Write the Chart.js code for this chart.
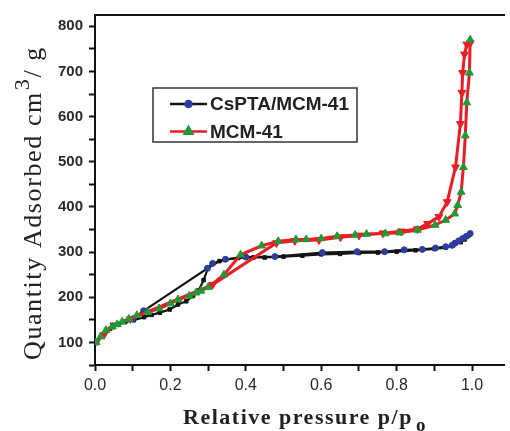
<!DOCTYPE html>
<html>
<head>
<meta charset="utf-8">
<script src="https://cdn.jsdelivr.net/npm/chart.js@4.4.1/dist/chart.umd.min.js"></script>
<style>
  html, body { margin: 0; padding: 0; background: #fff; }
  #wrap { width: 510px; height: 431px; }
</style>
</head>
<body>
<div id="wrap"><canvas id="iso" width="510" height="431"></canvas></div>
<script>
// N2 adsorption / desorption isotherms (relative pressure vs. quantity adsorbed)

// CsPTA/MCM-41 – adsorption branch
const CS_ADS_P = [0.005, 0.02, 0.04, 0.06, 0.08, 0.103, 0.13, 0.15, 0.172, 0.198, 0.22, 0.242, 0.26, 0.275, 0.288, 0.30,
                  0.33, 0.346, 0.38, 0.42, 0.45, 0.50, 0.55, 0.60, 0.65, 0.70, 0.75, 0.80, 0.85, 0.90, 0.93, 0.95, 0.97, 0.98, 0.99, 0.995];
const CS_ADS_V = [100, 118, 130, 139, 145, 149, 156, 161, 166, 173, 184, 191, 203, 215, 238, 265,
                  280, 283, 287, 288, 288, 290, 292, 295, 296, 298, 299, 301, 304, 307, 310, 315, 322, 328, 336, 340];

// CsPTA/MCM-41 – desorption branch
const CS_DES_P = [0.995, 0.985, 0.975, 0.965, 0.955, 0.947, 0.93, 0.903, 0.868, 0.82, 0.768, 0.695, 0.603, 0.477, 0.40, 0.346, 0.312, 0.298, 0.129, 0.10];
const CS_DES_V = [341, 335, 330, 325, 320, 315, 312, 309, 306, 305, 301, 301, 299, 290, 289, 284, 275, 264, 170, 152];

// MCM-41 – adsorption branch
const MCM_ADS_P = [0.003, 0.015, 0.029, 0.046, 0.059, 0.072, 0.09, 0.111, 0.14, 0.17, 0.20, 0.22, 0.25, 0.268, 0.281, 0.30,
                   0.342, 0.386, 0.442, 0.486, 0.533, 0.56, 0.60, 0.642, 0.69, 0.72, 0.77, 0.808, 0.855, 0.902, 0.93,
                   0.954, 0.962, 0.971, 0.977, 0.982, 0.986, 0.993, 0.995];
const MCM_ADS_V = [100, 113, 127, 135, 140, 146, 152, 160, 167, 175, 186, 195, 203, 210, 214, 222,
                   250, 294, 314, 324, 328, 328, 330, 335, 338, 340, 341, 343, 349, 360, 371,
                   385, 404, 433, 488, 558, 631, 697, 770];

// MCM-41 – desorption branch
const MCM_DES_P = [0.995, 0.986, 0.98, 0.975, 0.973, 0.969, 0.956, 0.934, 0.912, 0.882, 0.855, 0.812, 0.764, 0.70, 0.651,
                   0.594, 0.53, 0.481, 0.312, 0.094, 0.05, 0.024, 0.005];
const MCM_DES_V = [763, 760, 738, 697, 653, 584, 488, 411, 378, 363, 351, 346, 342, 337, 333,
                   327, 325, 320, 228, 152, 138, 117, 103];

const X_TICKS = [0, 0.1, 0.2, 0.3, 0.4, 0.5, 0.6, 0.7, 0.8, 0.9, 1.0];
const Y_TICKS = [50, 100, 150, 200, 250, 300, 350, 400, 450, 500, 550, 600, 650, 700, 750, 800];
const LEGEND_NAMES = ['CsPTA/MCM-41', 'MCM-41'];

const RED = '#ec1c24';
const GREEN = '#1f9a36';
const BLUE = '#2c3d9c';
const BLACK = '#141414';

const SERIF = '"Liberation Serif", "Times New Roman", serif';
const SANS = '"Liberation Sans", Arial, sans-serif';

const pts = (xs, ys) => xs.map((x, i) => ({ x, y: ys[i] }));

// legend box inside the plot: line colour of the branch + adsorption marker
const legendBox = {
  id: 'legendBox',
  afterDraw(chart) {
    const ctx = chart.ctx;
    const sets = chart.data.datasets;
    const rows = [
      { line: sets[3], mark: sets[2] },
      { line: sets[1], mark: sets[0] }
    ];
    ctx.save();
    ctx.strokeStyle = '#333';
    ctx.lineWidth = 1.5;
    ctx.strokeRect(153, 88, 204, 54);
    rows.forEach((r, i) => {
      const y = 104 + i * 27.5;
      ctx.strokeStyle = r.line.borderColor;
      ctx.lineWidth = 2.5;
      ctx.beginPath();
      ctx.moveTo(170, y);
      ctx.lineTo(207, y);
      ctx.stroke();
      ctx.fillStyle = r.mark.pointBackgroundColor;
      ctx.strokeStyle = r.mark.pointBorderColor;
      Chart.helpers.drawPoint(ctx, {
        pointStyle: r.mark.pointStyle, rotation: 0,
        radius: r.mark.pointRadius, borderWidth: 1
      }, 188.5, y);
      ctx.fillStyle = '#222';
      ctx.font = 'bold 19px ' + SANS;
      ctx.textBaseline = 'middle';
      ctx.fillText(LEGEND_NAMES[i], 210, y + 1);
    });
    ctx.restore();
  }
};

// axis titles: x with a subscript o, y rotated with a superscript 3
const axisTitles = {
  id: 'axisTitles',
  afterDraw(chart) {
    const ctx = chart.ctx;
    ctx.save();
    ctx.fillStyle = '#222';
    ctx.textBaseline = 'alphabetic';

    // x title
    ctx.letterSpacing = '1.5px';
    const main = 'Relative pressure p/p';
    ctx.font = 'bold 22px ' + SERIF;
    const w1 = ctx.measureText(main).width;
    ctx.font = 'bold 19px ' + SERIF;
    const w2 = ctx.measureText('o').width;
    const x0 = 305 - (w1 + w2 + 3) / 2;
    ctx.font = 'bold 22px ' + SERIF;
    ctx.fillText(main, x0, 424);
    ctx.font = 'bold 19px ' + SERIF;
    ctx.fillText('o', x0 + w1 + 3, 431);

    // y title, drawn bottom-up
    ctx.translate(41, 360);
    ctx.rotate(-Math.PI / 2);
    ctx.letterSpacing = '1.6px';
    ctx.font = '26px ' + SERIF;
    const a = 'Quantity Adsorbed cm';
    ctx.fillText(a, 0, 0);
    let x = ctx.measureText(a).width + 1;
    ctx.font = '22px ' + SERIF;
    ctx.fillText('3', x, -12);
    x += ctx.measureText('3').width;
    ctx.font = '26px ' + SERIF;
    ctx.fillText('/ g', x, 0);
    ctx.restore();
  }
};

new Chart(document.getElementById('iso'), {
  type: 'line',
  data: {
    datasets: [
      {
        label: 'MCM-41 adsorption',
        data: pts(MCM_ADS_P, MCM_ADS_V),
        borderColor: RED, borderWidth: 3,
        pointStyle: 'triangle', pointRadius: 4.5,
        pointBackgroundColor: GREEN, pointBorderColor: GREEN, pointBorderWidth: 1,
        order: 0
      },
      {
        label: 'MCM-41 desorption',
        data: pts(MCM_DES_P, MCM_DES_V),
        borderColor: RED, borderWidth: 3,
        pointStyle: 'triangle', pointRotation: 180, pointRadius: 4.5,
        pointBackgroundColor: RED, pointBorderColor: RED, pointBorderWidth: 1,
        order: 1
      },
      {
        label: 'CsPTA/MCM-41 desorption',
        data: pts(CS_DES_P, CS_DES_V),
        borderColor: BLACK, borderWidth: 2.2,
        pointStyle: 'circle', pointRadius: 3,
        pointBackgroundColor: BLUE, pointBorderColor: BLUE, pointBorderWidth: 1,
        order: 2
      },
      {
        label: 'CsPTA/MCM-41 adsorption',
        data: pts(CS_ADS_P, CS_ADS_V),
        borderColor: BLACK, borderWidth: 2.2,
        pointStyle: 'rect', pointRadius: 2.5,
        pointBackgroundColor: BLACK, pointBorderColor: BLACK, pointBorderWidth: 1,
        order: 3
      }
    ]
  },
  options: {
    responsive: false,
    animation: false,
    devicePixelRatio: 1,
    layout: { padding: 0 },
    plugins: { legend: { display: false }, tooltip: { enabled: false } },
    elements: { line: { tension: 0 } },
    scales: {
      x: {
        type: 'linear', position: 'bottom',
        min: 0, max: 1.086,
        afterBuildTicks: s => { s.ticks = X_TICKS.map(v => ({ value: v })); },
        afterFit: s => { s.height = 66; },
        ticks: {
          autoSkip: false, maxRotation: 0, padding: 5,
          color: '#2a2a2a',
          font: { family: SANS, size: 16 },
          callback: v => (Math.round(v * 10) % 2 === 0 ? v.toFixed(1) : '')
        },
        grid: { drawOnChartArea: false, drawTicks: true, tickLength: 6, tickColor: '#111', tickWidth: 2 },
        border: { color: '#111', width: 2 }
      },
      xTop: {
        type: 'linear', position: 'top',
        min: 0, max: 1.086,
        afterFit: s => { s.height = 14; },
        ticks: { display: false },
        grid: { drawOnChartArea: false, drawTicks: false },
        border: { color: '#111', width: 2 }
      },
      y: {
        type: 'linear', position: 'left',
        min: 50, max: 825,
        afterBuildTicks: s => { s.ticks = Y_TICKS.map(v => ({ value: v })); },
        afterFit: s => { s.width = 95; },
        ticks: {
          autoSkip: false, padding: 6,
          color: '#2a2a2a',
          font: { family: SANS, size: 15, weight: 'bold' },
          callback: v => (v % 100 === 0 ? v : '')
        },
        grid: { drawOnChartArea: false, drawTicks: true, tickLength: 6, tickColor: '#111', tickWidth: 2 },
        border: { color: '#111', width: 2 }
      }
    }
  },
  plugins: [legendBox, axisTitles]
});
</script>
</body>
</html>
